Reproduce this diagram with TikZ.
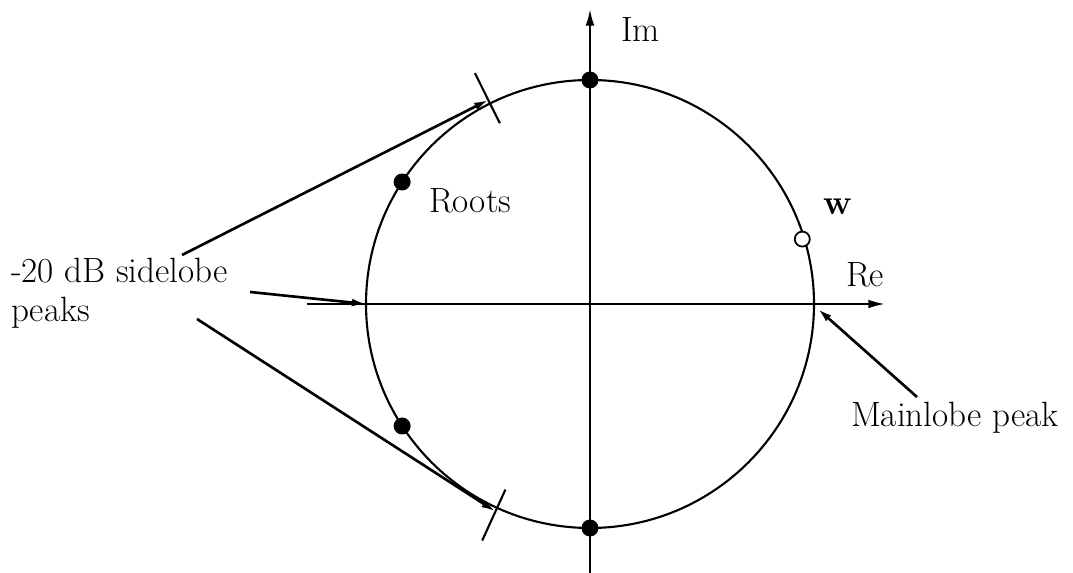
\documentclass[tikz,border=0pt]{standalone}
\usepackage{fontspec}
\usetikzlibrary{arrows.meta,calc}
\begin{document}
\begin{tikzpicture}[
    x=0.02cm, y=-0.02cm,
    line width=1.2pt,
    root/.style={circle, fill, inner sep=0pt, minimum size=0.34cm},
    zero/.style={circle, draw, fill=white, inner sep=0pt, minimum size=0.3cm, line width=1pt},
    lbl/.style={font=\fontsize{20}{18}\selectfont, inner sep=0pt},
    axis/.style={-{Latex[length=9.5pt,width=5pt]}},
    pointer/.style={-{Latex[length=8pt,width=4.5pt]}, line width=1.5pt}
]
\useasboundingbox (0,0) rectangle (1073,573);

% Unit circle
\coordinate (O) at (590,304);
\draw (O) circle[radius=224];

% Axes
\coordinate (reL) at (307,304);
\coordinate (reR) at (885,304);
\coordinate (imB) at (590,573);
\coordinate (imT) at (590,9);
\draw[axis] (reL) -- (reR);
\draw[axis] (imB) -- (imT);
\node[lbl, anchor=base west] (re) at (845,287) {Re};
\node[lbl, anchor=base west] (im) at (620,42) {Im};

% Roots
\node[root] (r1) at ($(O)+(-90:224)$) {};
\node[root] (r2) at ($(O)+(-147:224)$) {};
\node[root] (r3) at ($(O)+(147:224)$) {};
\node[root] (r4) at ($(O)+(90:224)$) {};
\node[lbl, anchor=base west] (roots) at (428,213) {Roots};

% Zero w
\node[zero] (w) at ($(O)+(-17:222)$) {};
\node[lbl, anchor=base west] (wl) at (822,215) {\textbf{w}};

% Sidelobe peaks
\coordinate (s1) at ($(O)+(-116.5:228)$);
\coordinate (s2) at ($(O)+(114.5:228)$);
\coordinate (s0) at ($(O)+(180:224)$);
\draw ($(O)+(-116.5:202)$) -- ($(O)+(-116.5:258)$);
\draw ($(O)+(114.5:204)$) -- ($(O)+(114.5:260)$);

\node[lbl, anchor=north west, align=left] (side) at (10,257) {-20 dB sidelobe\\[4pt]peaks};
\coordinate (a1) at (182,255);
\coordinate (a2) at (250,292);
\coordinate (a3) at (197,319);
\draw[pointer] (a1) -- (s1);
\draw[pointer] (a2) -- (s0);
\draw[pointer] (a3) -- (s2);

% Mainlobe peak
\coordinate (m0) at (818,309);
\coordinate (a4) at (917,397);
\node[lbl, anchor=base west] (main) at (850,427) {Mainlobe peak};
\draw[pointer] (a4) -- (m0);

\end{tikzpicture}
\end{document}
